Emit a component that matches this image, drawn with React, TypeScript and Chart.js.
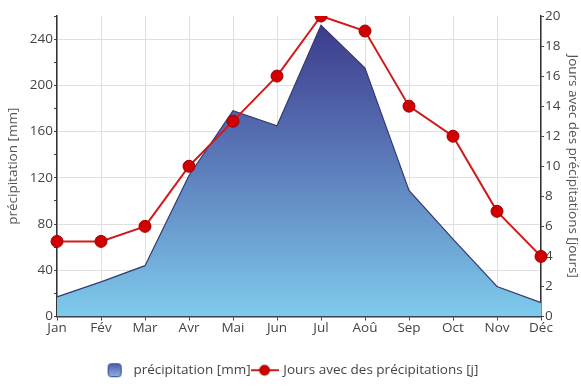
import React, { useEffect, useRef } from "react";
import { Chart, registerables } from "chart.js";

Chart.register(...registerables);

const months = ["Jan", "Fév", "Mar", "Avr", "Mai", "Jun", "Jul", "Aoû", "Sep", "Oct", "Nov", "Déc"];
const precipitation = [17, 30, 44, 122, 178, 165, 252, 215, 109, 67, 26, 12];
const rainyDays = [5, 5, 6, 10, 13, 16, 20, 19, 14, 12, 7, 4];

const precipLabel = "précipitation [mm]";
const daysLabel = "Jours avec des précipitations [j]";
const leftTitle = "précipitation [mm]";
const rightTitle = "Jours avec des précipitations [jours]";

const FONT = "'Open Sans', 'Noto Sans', sans-serif";
const FONT_SIZE = 13.5;
const TEXT_COLOR = "#444";
const TOP_COLOR = "#3c3c8c";
const BOTTOM_COLOR = "#7ecbec";
const LINE_COLOR = "#d11a1a";
const POINT_FILL = "#d00000";
const POINT_BORDER = "#a00000";

function areaIcon(): HTMLCanvasElement {
  const c = document.createElement("canvas");
  c.width = 16;
  c.height = 16;
  const ctx = c.getContext("2d")!;
  const g = ctx.createLinearGradient(0, 1, 0, 15);
  g.addColorStop(0, "#4a58a8");
  g.addColorStop(1, "#8ab8e6");
  ctx.fillStyle = g;
  ctx.strokeStyle = "#3a4080";
  ctx.lineWidth = 1;
  ctx.beginPath();
  ctx.roundRect(1.5, 1.5, 13, 13, 3);
  ctx.fill();
  ctx.stroke();
  return c;
}

function lineIcon(): HTMLCanvasElement {
  const c = document.createElement("canvas");
  c.width = 28;
  c.height = 14;
  const ctx = c.getContext("2d")!;
  ctx.strokeStyle = LINE_COLOR;
  ctx.lineWidth = 2;
  ctx.beginPath();
  ctx.moveTo(0, 7);
  ctx.lineTo(28, 7);
  ctx.stroke();
  ctx.fillStyle = POINT_FILL;
  ctx.strokeStyle = POINT_BORDER;
  ctx.lineWidth = 1;
  ctx.beginPath();
  ctx.arc(14, 7, 5, 0, Math.PI * 2);
  ctx.fill();
  ctx.stroke();
  return c;
}

export default function App() {
  const ref = useRef<HTMLCanvasElement | null>(null);

  useEffect(() => {
    document.body.style.margin = "0";
    const canvas = ref.current;
    if (!canvas) return;
    const icons = [areaIcon(), lineIcon()];
    const font = { family: FONT, size: FONT_SIZE };

    const chart = new Chart(canvas, {
      type: "line",
      data: {
        labels: months,
        datasets: [
          {
            label: daysLabel,
            data: rainyDays,
            yAxisID: "yDays",
            borderColor: LINE_COLOR,
            borderWidth: 2,
            pointRadius: 6,
            pointBackgroundColor: POINT_FILL,
            pointBorderColor: POINT_BORDER,
            pointBorderWidth: 1,
            fill: false,
            tension: 0,
            order: 0,
          },
          {
            label: precipLabel,
            data: precipitation,
            yAxisID: "yPrecip",
            borderColor: "#353a70",
            borderWidth: 1.2,
            pointRadius: 0,
            fill: "origin",
            tension: 0,
            order: 1,
            backgroundColor: (ctx: any) => {
              const area = ctx.chart.chartArea;
              if (!area) return TOP_COLOR;
              const g = ctx.chart.ctx.createLinearGradient(0, area.top + 10, 0, area.bottom);
              g.addColorStop(0, TOP_COLOR);
              g.addColorStop(0.45, "#5a78b8");
              g.addColorStop(1, BOTTOM_COLOR);
              return g;
            },
          },
        ],
      },
      options: {
        animation: false,
        responsive: false,
        maintainAspectRatio: false,
        layout: { padding: { top: 16, left: 0, right: 0, bottom: 0 } },
        plugins: {
          tooltip: { enabled: false },
          legend: {
            position: "bottom",
            labels: {
              usePointStyle: true,
              pointStyleWidth: 24,
              boxHeight: 14,
              padding: 2,
              color: TEXT_COLOR,
              font,
              generateLabels: () => [
                {
                  text: precipLabel,
                  pointStyle: icons[0],
                  datasetIndex: 1,
                  fillStyle: TOP_COLOR,
                  strokeStyle: TOP_COLOR,
                  lineWidth: 0,
                  hidden: false,
                  fontColor: TEXT_COLOR,
                },
                {
                  text: daysLabel,
                  pointStyle: icons[1],
                  datasetIndex: 0,
                  fillStyle: LINE_COLOR,
                  strokeStyle: LINE_COLOR,
                  lineWidth: 0,
                  hidden: false,
                  fontColor: TEXT_COLOR,
                },
              ],
            },
          },
        },
        scales: {
          x: {
            type: "category",
            offset: false,
            grid: {
              color: "#e0e0e0",
              tickColor: "#444",
              tickLength: 4,
            },
            border: { color: "#333", width: 1.5 },
            ticks: {
              color: TEXT_COLOR,
              font,
              padding: 0,
              maxRotation: 0,
              autoSkip: false,
            },
            afterFit: (s: any) => {
              s.height = 45;
            },
          },
          yPrecip: {
            type: "linear",
            position: "left",
            min: 0,
            max: 260,
            title: {
              display: true,
              text: leftTitle,
              color: "#555",
              font,
              padding: { top: 5, bottom: 0 },
            },
            ticks: {
              stepSize: 10,
              maxTicksLimit: 100,
              color: TEXT_COLOR,
              font,
              padding: 1,
              callback: (v: any) => (v % 40 === 0 && v <= 240 ? String(v) : ""),
            },
            grid: {
              color: (c: any) =>
                c.tick && c.tick.value % 40 === 0 && c.tick.value > 0 && c.tick.value <= 240 ? "#e0e0e0" : "transparent",
              tickColor: "#444",
              tickLength: 3,
            },
            border: { color: "#333", width: 1.5 },
            afterFit: (s: any) => {
              s.width = 57;
            },
          },
          yDays: {
            type: "linear",
            position: "right",
            min: 0,
            max: 20,
            title: {
              display: true,
              text: rightTitle,
              color: "#555",
              font,
              padding: 0,
            },
            ticks: {
              stepSize: 1,
              maxTicksLimit: 100,
              color: TEXT_COLOR,
              font,
              padding: 1,
              callback: (v: any) => (v % 2 === 0 ? String(v) : ""),
            },
            grid: {
              drawOnChartArea: false,
              tickColor: "#444",
              tickLength: 3,
            },
            border: { color: "#333", width: 1.5 },
            afterFit: (s: any) => {
              s.width = 40;
            },
          },
        },
      },
    });
    return () => chart.destroy();
  }, []);

  return (
    <div style={{ width: 581, height: 387, background: "#fff" }}>
      <canvas ref={ref} width={581} height={387} style={{ display: "block" }} />
    </div>
  );
}
